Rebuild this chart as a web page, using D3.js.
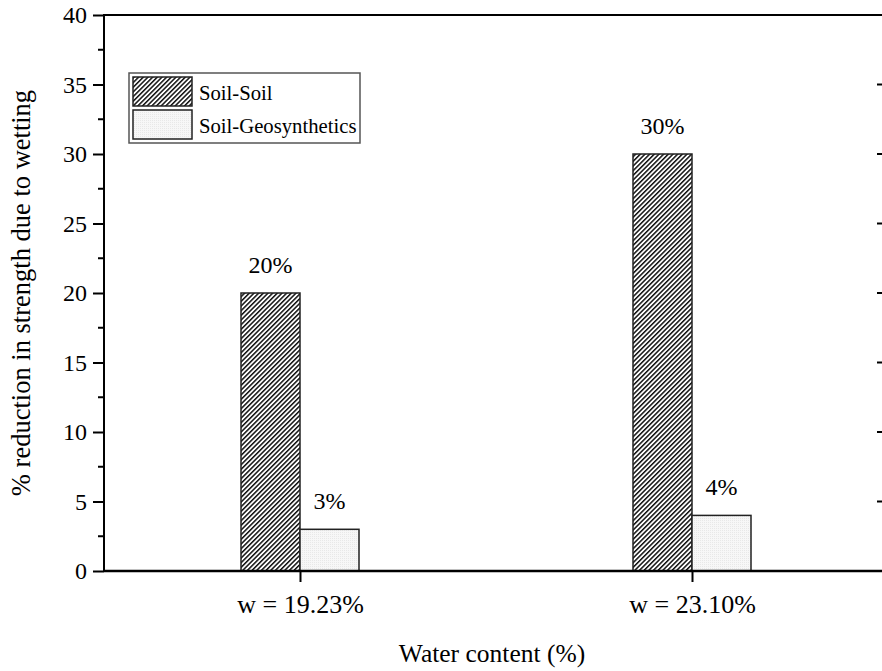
<!DOCTYPE html>
<html>
<head>
<meta charset="utf-8">
<script src="https://cdn.jsdelivr.net/npm/d3@7"></script>
<style>
  html, body { margin: 0; padding: 0; background: #fff; }
  svg { display: block; }
</style>
</head>
<body>
<svg id="chart" width="882" height="671"></svg>
<script>
// Data
const categories = ["w = 19.23%", "w = 23.10%"];
const seriesNames = ["Soil-Soil", "Soil-Geosynthetics"];
const soilSoil = [20, 30];
const soilGeo = [3, 4];
const yTicks = [0, 5, 10, 15, 20, 25, 30, 35, 40];

const FONT = "'Liberation Serif', 'Times New Roman', 'DejaVu Serif', serif";

const svg = d3.select("#chart");
const plotL = 104, plotR = 888, plotT = 15, plotB = 571;

const defs = svg.append("defs");
// diagonal hatch for soil-soil
const hatch = defs.append("pattern")
  .attr("id", "hatch").attr("patternUnits", "userSpaceOnUse")
  .attr("width", 3.3).attr("height", 3.3)
  .attr("patternTransform", "rotate(45)");
hatch.append("rect").attr("width", 3.3).attr("height", 3.3).attr("fill", "#fff");
hatch.append("rect").attr("x", 0).attr("y", 0).attr("width", 1.5).attr("height", 3.3)
  .attr("fill", "#111");
// fine light grid for soil-geosynthetics
const dots = defs.append("pattern")
  .attr("id", "dots").attr("patternUnits", "userSpaceOnUse")
  .attr("width", 2).attr("height", 2);
dots.append("rect").attr("width", 2).attr("height", 2).attr("fill", "#f7f7f7");
dots.append("rect").attr("width", 1).attr("height", 1).attr("fill", "#e8e8e8");

const fills = ["url(#hatch)", "url(#dots)"];

const x = d3.scalePoint().domain(categories).range([plotL, plotR]).padding(0.5);
const y = d3.scaleLinear().domain([0, 40]).range([plotB, plotT]);
const barW = 59;

const groups = categories.map((c, i) => ({ c, vals: [soilSoil[i], soilGeo[i]] }));

// bars with value labels
groups.forEach(g => {
  g.vals.forEach((v, j) => {
    const bx = x(g.c) + (j === 0 ? -barW : 0);
    svg.append("rect")
      .attr("x", bx).attr("y", y(v))
      .attr("width", barW).attr("height", y(0) - y(v))
      .attr("fill", fills[j]).attr("stroke", "#222").attr("stroke-width", 1.5);
    svg.append("text")
      .attr("x", bx + barW / 2).attr("y", y(v) - 20)
      .attr("text-anchor", "middle")
      .style("font-family", FONT).style("font-size", "24px")
      .text(v + "%");
  });
});

// left axis
const yMinor = d3.range(2.5, 40, 5);
const leftAxis = svg.append("g").attr("transform", `translate(${plotL},0)`)
  .call(d3.axisLeft(y).tickValues(yTicks).tickSize(11).tickPadding(6).tickFormat(d3.format("d")));
leftAxis.append("g").selectAll("line").data(yMinor).join("line")
  .attr("x1", -6).attr("x2", 0).attr("y1", d => y(d)).attr("y2", d => y(d))
  .attr("stroke", "#000").attr("stroke-width", 2);

// right axis: inward ticks
const rightAxis = svg.append("g").attr("transform", `translate(${plotR},0)`);
rightAxis.selectAll("line").data(yTicks).join("line")
  .attr("x1", -11).attr("x2", 0).attr("y1", d => y(d)).attr("y2", d => y(d))
  .attr("stroke", "#000").attr("stroke-width", 2);

// bottom axis
const bottomAxis = svg.append("g").attr("transform", `translate(0,${plotB})`)
  .call(d3.axisBottom(x).tickSize(11).tickPadding(13));

[[leftAxis, 24], [bottomAxis, 26]].forEach(([a, fs]) => {
  a.attr("font-family", null).attr("font-size", null);
  a.selectAll("text").style("font-family", FONT).style("font-size", fs + "px").attr("fill", "#000");
  a.selectAll(".tick line").attr("stroke-width", 2);
  a.select(".domain").remove();
});

// frame lines
const frame = [
  [plotL, plotT, plotR, plotT],
  [plotL, plotT - 1, plotL, plotB + 1],
  [plotR, plotT - 1, plotR, plotB + 1],
  [plotL, plotB, plotR, plotB]
];
svg.append("g").selectAll("line").data(frame).join("line")
  .attr("x1", d => d[0]).attr("y1", d => d[1]).attr("x2", d => d[2]).attr("y2", d => d[3])
  .attr("stroke", "#000").attr("stroke-width", (d, i) => i === 3 ? 2.5 : 2);

// axis titles
svg.append("text")
  .attr("x", 492).attr("y", 662)
  .attr("text-anchor", "middle")
  .style("font-family", FONT).style("font-size", "25.5px")
  .text("Water content (%)");
svg.append("text")
  .attr("transform", `translate(30,${(plotT + plotB) / 2}) rotate(-90)`)
  .attr("text-anchor", "middle")
  .style("font-family", FONT).style("font-size", "26.5px")
  .text("% reduction in strength due to wetting");

// legend
const lg = svg.append("g");
lg.append("rect").attr("x", 129).attr("y", 73).attr("width", 231).attr("height", 70)
  .attr("fill", "#fff").attr("stroke", "#555").attr("stroke-width", 1.5);
seriesNames.forEach((n, i) => {
  const sy = 77 + i * 33;
  lg.append("rect").attr("x", 133).attr("y", sy).attr("width", 59).attr("height", 29)
    .attr("fill", fills[i]).attr("stroke", "#222").attr("stroke-width", 1.5);
  lg.append("text").attr("x", 199).attr("y", sy + 23)
    .style("font-family", FONT).style("font-size", "20.7px").text(n);
});
</script>
</body>
</html>
